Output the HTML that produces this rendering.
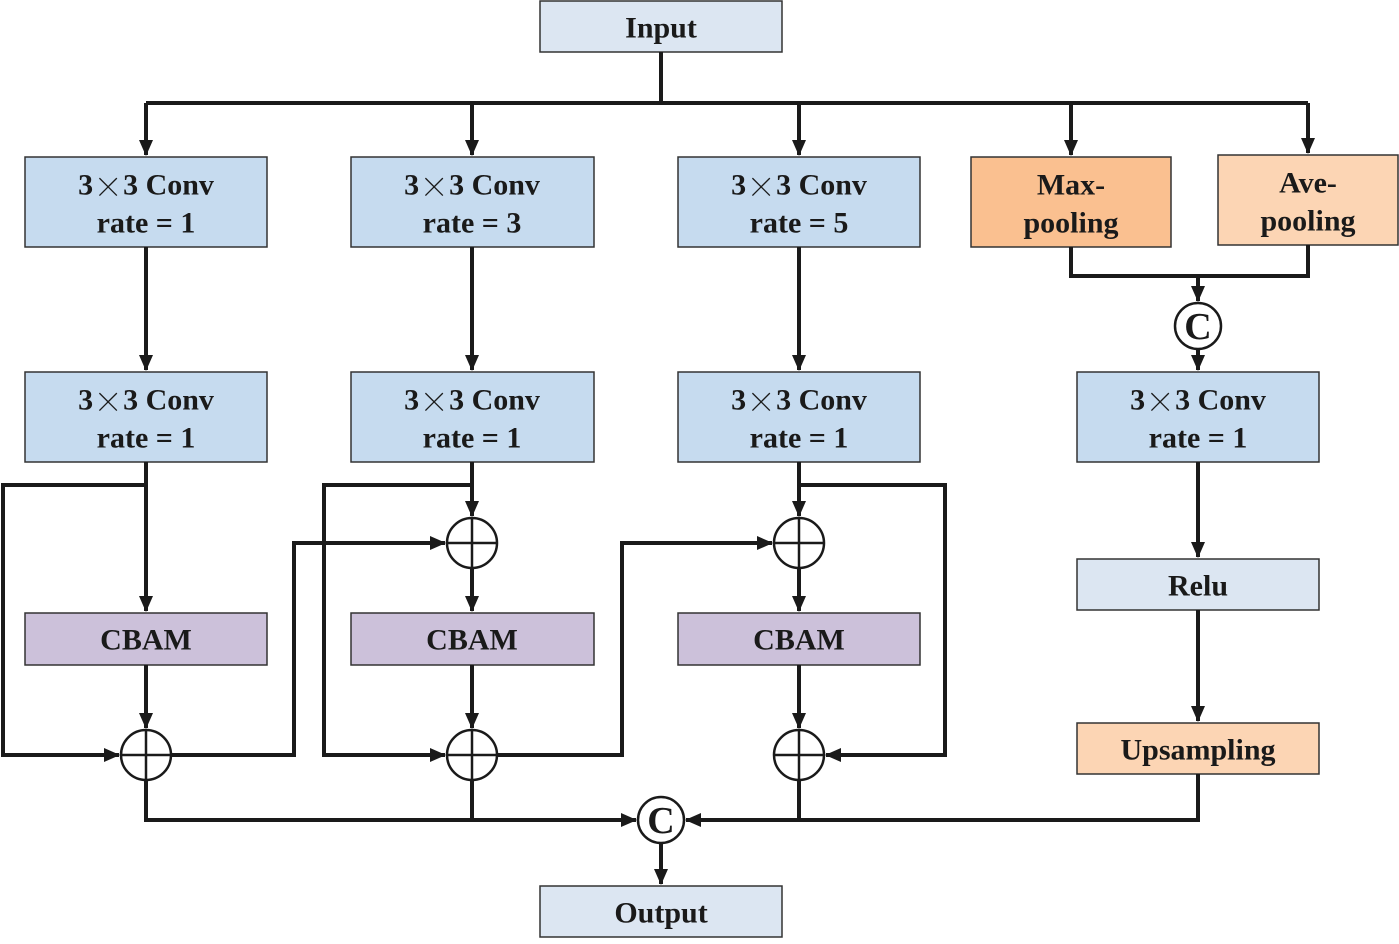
<!DOCTYPE html>
<html><head><meta charset="utf-8"><style>
html,body{margin:0;padding:0;background:#fff}
svg text{font-family:"Liberation Serif",serif;font-weight:bold;font-size:30px;fill:#1a1a1a;text-anchor:middle;dominant-baseline:central}
.x{font-family:"Noto Serif CJK SC","Noto Sans CJK SC",serif;font-weight:normal}
</style></head><body>
<svg width="1399" height="939" viewBox="0 0 1399 939" xmlns="http://www.w3.org/2000/svg">
<defs>
<marker id="a" markerWidth="16" markerHeight="14" refX="15" refY="7" orient="auto" markerUnits="userSpaceOnUse" viewBox="0 0 16 14">
<path d="M0,0 L16,7 L0,14 z" fill="#1a1a1a"/></marker>
</defs>
<g stroke="#333" stroke-width="1.5">
<rect x="540" y="1" width="242" height="51" fill="#dce6f2"/>
<rect x="540" y="886" width="242" height="51" fill="#dce6f2"/>
<rect x="25" y="157" width="242" height="90" fill="#c6dbef"/>
<rect x="351" y="157" width="243" height="90" fill="#c6dbef"/>
<rect x="678" y="157" width="242" height="90" fill="#c6dbef"/>
<rect x="971" y="157" width="200" height="90" fill="#fac090"/>
<rect x="1218" y="155" width="180" height="90" fill="#fcd5b4"/>
<rect x="25" y="372" width="242" height="90" fill="#c6dbef"/>
<rect x="351" y="372" width="243" height="90" fill="#c6dbef"/>
<rect x="678" y="372" width="242" height="90" fill="#c6dbef"/>
<rect x="1077" y="372" width="242" height="90" fill="#c6dbef"/>
<rect x="1077" y="559" width="242" height="51" fill="#dce6f2"/>
<rect x="1077" y="723" width="242" height="51" fill="#fcd5b4"/>
<rect x="25" y="613" width="242" height="52" fill="#ccc1da"/>
<rect x="351" y="613" width="243" height="52" fill="#ccc1da"/>
<rect x="678" y="613" width="242" height="52" fill="#ccc1da"/>
</g>
<g stroke="#1a1a1a" stroke-width="4" fill="none">
<path d="M661,52 V103"/>
<path d="M146,103 H1308"/>
<path d="M146,103 V155" marker-end="url(#a)"/>
<path d="M472,103 V155" marker-end="url(#a)"/>
<path d="M799,103 V155" marker-end="url(#a)"/>
<path d="M1071,103 V155" marker-end="url(#a)"/>
<path d="M1308,103 V153" marker-end="url(#a)"/>
<path d="M146,247 V370" marker-end="url(#a)"/>
<path d="M472,247 V370" marker-end="url(#a)"/>
<path d="M799,247 V370" marker-end="url(#a)"/>
<path d="M146,462 V611" marker-end="url(#a)"/>
<path d="M146,485 H3 V755 H119" marker-end="url(#a)"/>
<path d="M146,665 V728" marker-end="url(#a)"/>
<path d="M171,755 H294 V543 H445" marker-end="url(#a)"/>
<path d="M472,462 V516" marker-end="url(#a)"/>
<path d="M472,485 H324 V755 H445" marker-end="url(#a)"/>
<path d="M472,568 V611" marker-end="url(#a)"/>
<path d="M472,665 V728" marker-end="url(#a)"/>
<path d="M497,755 H622 V543 H772" marker-end="url(#a)"/>
<path d="M799,462 V516" marker-end="url(#a)"/>
<path d="M799,485 H945 V755 H826" marker-end="url(#a)"/>
<path d="M799,568 V611" marker-end="url(#a)"/>
<path d="M799,665 V728" marker-end="url(#a)"/>
<path d="M146,780 V820 H636" marker-end="url(#a)"/>
<path d="M472,780 V820"/>
<path d="M799,780 V820"/>
<path d="M1198,774 V820 H686" marker-end="url(#a)"/>
<path d="M661,843 V884" marker-end="url(#a)"/>
<path d="M1071,247 V276 H1308 V245"/>
<path d="M1198,276 V301" marker-end="url(#a)"/>
<path d="M1198,349 V370" marker-end="url(#a)"/>
<path d="M1198,462 V557" marker-end="url(#a)"/>
<path d="M1198,610 V721" marker-end="url(#a)"/>
</g>
<g stroke="#1a1a1a" stroke-width="2.5" fill="#fff">
<circle cx="146" cy="755" r="25"/><path d="M121,755 H171 M146,730 V780"/>
<circle cx="472" cy="543" r="25"/><path d="M447,543 H497 M472,518 V568"/>
<circle cx="472" cy="755" r="25"/><path d="M447,755 H497 M472,730 V780"/>
<circle cx="799" cy="543" r="25"/><path d="M774,543 H824 M799,518 V568"/>
<circle cx="799" cy="755" r="25"/><path d="M774,755 H824 M799,730 V780"/>
<circle cx="661" cy="820" r="23"/>
<circle cx="1198" cy="326" r="23"/>
</g>
<text x="661" y="821" style="font-size:38px">C</text>
<text x="1198" y="327" style="font-size:38px">C</text>
<text x="661" y="28">Input</text>
<text x="661" y="913">Output</text>
<text x="146" y="185">3<tspan class="x">×</tspan>3 Conv</text><text x="146" y="223">rate = 1</text>
<text x="472" y="185">3<tspan class="x">×</tspan>3 Conv</text><text x="472" y="223">rate = 3</text>
<text x="799" y="185">3<tspan class="x">×</tspan>3 Conv</text><text x="799" y="223">rate = 5</text>
<text x="1071" y="185">Max-</text><text x="1071" y="223">pooling</text>
<text x="1308" y="183">Ave-</text><text x="1308" y="221">pooling</text>
<text x="146" y="400">3<tspan class="x">×</tspan>3 Conv</text><text x="146" y="438">rate = 1</text>
<text x="472" y="400">3<tspan class="x">×</tspan>3 Conv</text><text x="472" y="438">rate = 1</text>
<text x="799" y="400">3<tspan class="x">×</tspan>3 Conv</text><text x="799" y="438">rate = 1</text>
<text x="1198" y="400">3<tspan class="x">×</tspan>3 Conv</text><text x="1198" y="438">rate = 1</text>
<text x="146" y="640">CBAM</text>
<text x="472" y="640">CBAM</text>
<text x="799" y="640">CBAM</text>
<text x="1198" y="586">Relu</text>
<text x="1198" y="750">Upsampling</text>
</svg>
</body></html>
